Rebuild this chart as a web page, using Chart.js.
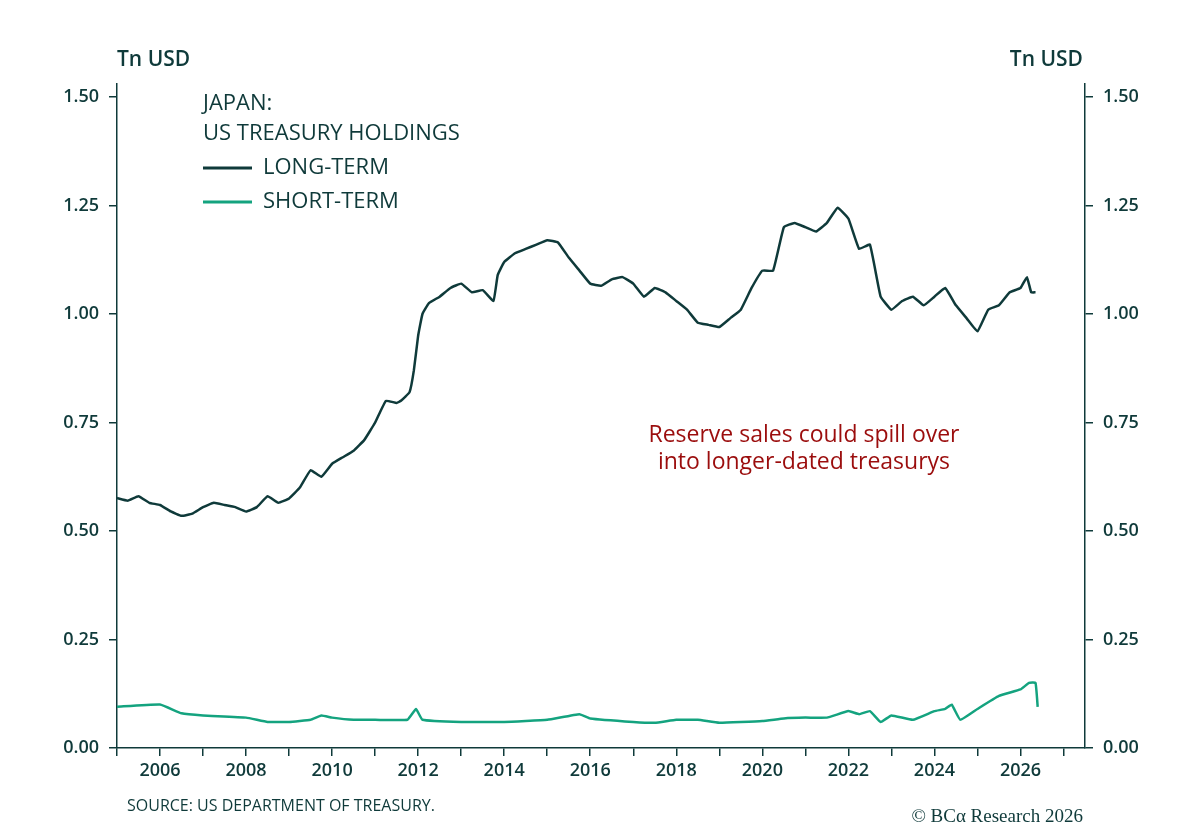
<!DOCTYPE html>
<html>
<head>
<meta charset="utf-8">
<script src="https://cdn.jsdelivr.net/npm/chart.js@4/dist/chart.umd.min.js"></script>
<style>
  html, body { margin: 0; padding: 0; background: #fff; }
  #wrap { position: relative; width: 1200px; height: 830px; }
</style>
</head>
<body>
<div id="wrap"><canvas id="grafico" width="1200" height="830"></canvas></div>
<script>
// Datos (año decimal, billones USD)
const largoAnios = [2005.0,2005.25,2005.5,2005.75,2006.0,2006.25,2006.5,2006.75,2007.0,2007.25,2007.5,2007.75,2008.0,2008.25,2008.5,2008.75,2009.0,2009.25,2009.5,2009.75,2010.0,2010.25,2010.5,2010.75,2011.0,2011.25,2011.5,2011.6,2011.8,2011.9,2012.0,2012.1,2012.25,2012.5,2012.75,2013.0,2013.25,2013.5,2013.75,2013.85,2014.0,2014.25,2014.5,2014.75,2015.0,2015.25,2015.5,2015.75,2016.0,2016.25,2016.5,2016.75,2017.0,2017.25,2017.5,2017.75,2018.0,2018.25,2018.5,2018.75,2019.0,2019.25,2019.5,2019.75,2020.0,2020.25,2020.5,2020.75,2021.0,2021.25,2021.5,2021.75,2022.0,2022.25,2022.5,2022.75,2023.0,2023.25,2023.5,2023.75,2024.0,2024.25,2024.5,2024.75,2025.0,2025.25,2025.5,2025.75,2026.0,2026.15,2026.25,2026.35];
const largoPlazo = [0.576,0.57,0.58,0.565,0.56,0.545,0.535,0.54,0.555,0.565,0.56,0.555,0.545,0.555,0.58,0.565,0.575,0.60,0.64,0.625,0.655,0.67,0.685,0.71,0.75,0.80,0.795,0.80,0.82,0.87,0.95,1.00,1.025,1.04,1.06,1.07,1.05,1.055,1.03,1.09,1.12,1.14,1.15,1.16,1.17,1.165,1.13,1.10,1.07,1.065,1.08,1.085,1.07,1.04,1.06,1.05,1.03,1.01,0.98,0.975,0.97,0.99,1.01,1.06,1.10,1.10,1.20,1.21,1.20,1.19,1.21,1.245,1.22,1.15,1.16,1.04,1.01,1.03,1.04,1.02,1.04,1.06,1.02,0.99,0.96,1.01,1.02,1.05,1.06,1.085,1.05,1.05];

const cortoAnios = [2005.0,2006.0,2006.5,2007.0,2008.0,2008.5,2009.0,2009.5,2009.75,2010.0,2010.5,2011.0,2011.75,2011.95,2012.1,2013.0,2014.0,2015.0,2015.75,2016.0,2017.0,2017.5,2018.0,2018.5,2019.0,2020.0,2020.5,2021.0,2021.5,2022.0,2022.25,2022.5,2022.75,2023.0,2023.5,2024.0,2024.25,2024.4,2024.6,2025.0,2025.5,2026.0,2026.2,2026.35,2026.4];
const cortoPlazo = [0.095,0.10,0.08,0.075,0.07,0.06,0.06,0.065,0.075,0.07,0.065,0.065,0.065,0.09,0.065,0.06,0.06,0.065,0.078,0.068,0.06,0.058,0.065,0.065,0.058,0.062,0.068,0.07,0.07,0.085,0.078,0.085,0.06,0.075,0.065,0.085,0.09,0.10,0.065,0.09,0.12,0.135,0.15,0.15,0.095];

const marcasY = [0, 0.25, 0.5, 0.75, 1.0, 1.25, 1.5];

const OSCURO = '#0f3a3a';
const VERDE = '#14a37f';
const ROJO = '#9b0d0d';
const FUENTE = '"Open Sans", sans-serif';

const puntos = (xs, ys) => xs.map((x, i) => ({ x, y: ys[i] }));

// Textos fijos: unidades, leyenda, nota y fuente
const textos = {
  id: 'textos',
  afterDraw(chart) {
    const c = chart.ctx;
    c.save();
    c.fillStyle = OSCURO;
    c.font = `600 21px ${FUENTE}`;
    c.textBaseline = 'middle';
    c.textAlign = 'left';
    c.fillText('Tn USD', 117, 60);
    c.textAlign = 'right';
    c.fillText('Tn USD', 1083, 60);
    c.textAlign = 'left';
    c.font = `22px ${FUENTE}`;
    c.fillText('JAPAN:', 203, 104);
    c.fillText('US TREASURY HOLDINGS', 203, 134);
    c.fillText('LONG-TERM', 263, 168);
    c.fillText('SHORT-TERM', 263, 202);
    c.lineWidth = 3;
    c.strokeStyle = OSCURO;
    c.beginPath(); c.moveTo(203, 168); c.lineTo(252, 168); c.stroke();
    c.strokeStyle = VERDE;
    c.beginPath(); c.moveTo(203, 202); c.lineTo(252, 202); c.stroke();
    c.fillStyle = ROJO;
    c.textAlign = 'center';
    c.font = `23px ${FUENTE}`;
    c.fillText('Reserve sales could spill over', 804, 435);
    c.fillText('into longer-dated treasurys', 804, 462);
    c.fillStyle = OSCURO;
    c.textAlign = 'left';
    c.font = `16px ${FUENTE}`;
    c.fillText('SOURCE: US DEPARTMENT OF TREASURY.', 127, 806);
    c.textAlign = 'right';
    c.font = '19px "Liberation Serif", serif';
    c.fillText('© BCα Research 2026', 1083, 817);
    c.restore();
  }
};

const ejeY = (pos) => ({
  type: 'linear', position: pos, min: 0, max: 1.53,
  afterBuildTicks: ax => { ax.ticks = marcasY.map(v => ({ value: v })); },
  afterFit: ax => { ax.width = pos === 'left' ? 117 : 115; },
  grid: { drawOnChartArea: false, drawTicks: true, tickLength: 8, color: OSCURO, lineWidth: 1.5 },
  border: { color: OSCURO, width: 1.5 },
  ticks: { color: OSCURO, font: { family: FUENTE, size: 18, weight: '600' }, padding: 10,
           callback: v => v.toFixed(2) }
});

new Chart(document.getElementById('grafico'), {
  type: 'line',
  data: {
    datasets: [
      { label: 'LONG-TERM', data: puntos(largoAnios, largoPlazo), borderColor: OSCURO, borderWidth: 2.5, pointRadius: 0, tension: 0.1, yAxisID: 'y' },
      { label: 'SHORT-TERM', data: puntos(cortoAnios, cortoPlazo), borderColor: VERDE, borderWidth: 2.5, pointRadius: 0, tension: 0.1, yAxisID: 'y' }
    ]
  },
  options: {
    responsive: false,
    animation: false,
    layout: { padding: { top: 84, left: 0, right: 0, bottom: 0 } },
    plugins: { legend: { display: false }, tooltip: { enabled: false } },
    scales: {
      x: {
        type: 'linear', min: 2005, max: 2027.5,
        afterBuildTicks: ax => { const t = []; for (let a = 2005; a <= 2027; a++) t.push({ value: a }); ax.ticks = t; },
        afterFit: ax => { ax.height = 82; },
        grid: { drawOnChartArea: false, drawTicks: true, tickLength: 8, color: OSCURO, lineWidth: 1.5 },
        border: { color: OSCURO, width: 1.5 },
        ticks: { color: OSCURO, autoSkip: false, maxRotation: 0, padding: 4,
                 font: { family: FUENTE, size: 18, weight: '600' },
                 callback: v => (v % 2 === 0 ? String(v) : '') }
      },
      y: ejeY('left'),
      y2: ejeY('right')
    }
  },
  plugins: [textos]
});
</script>
</body>
</html>
